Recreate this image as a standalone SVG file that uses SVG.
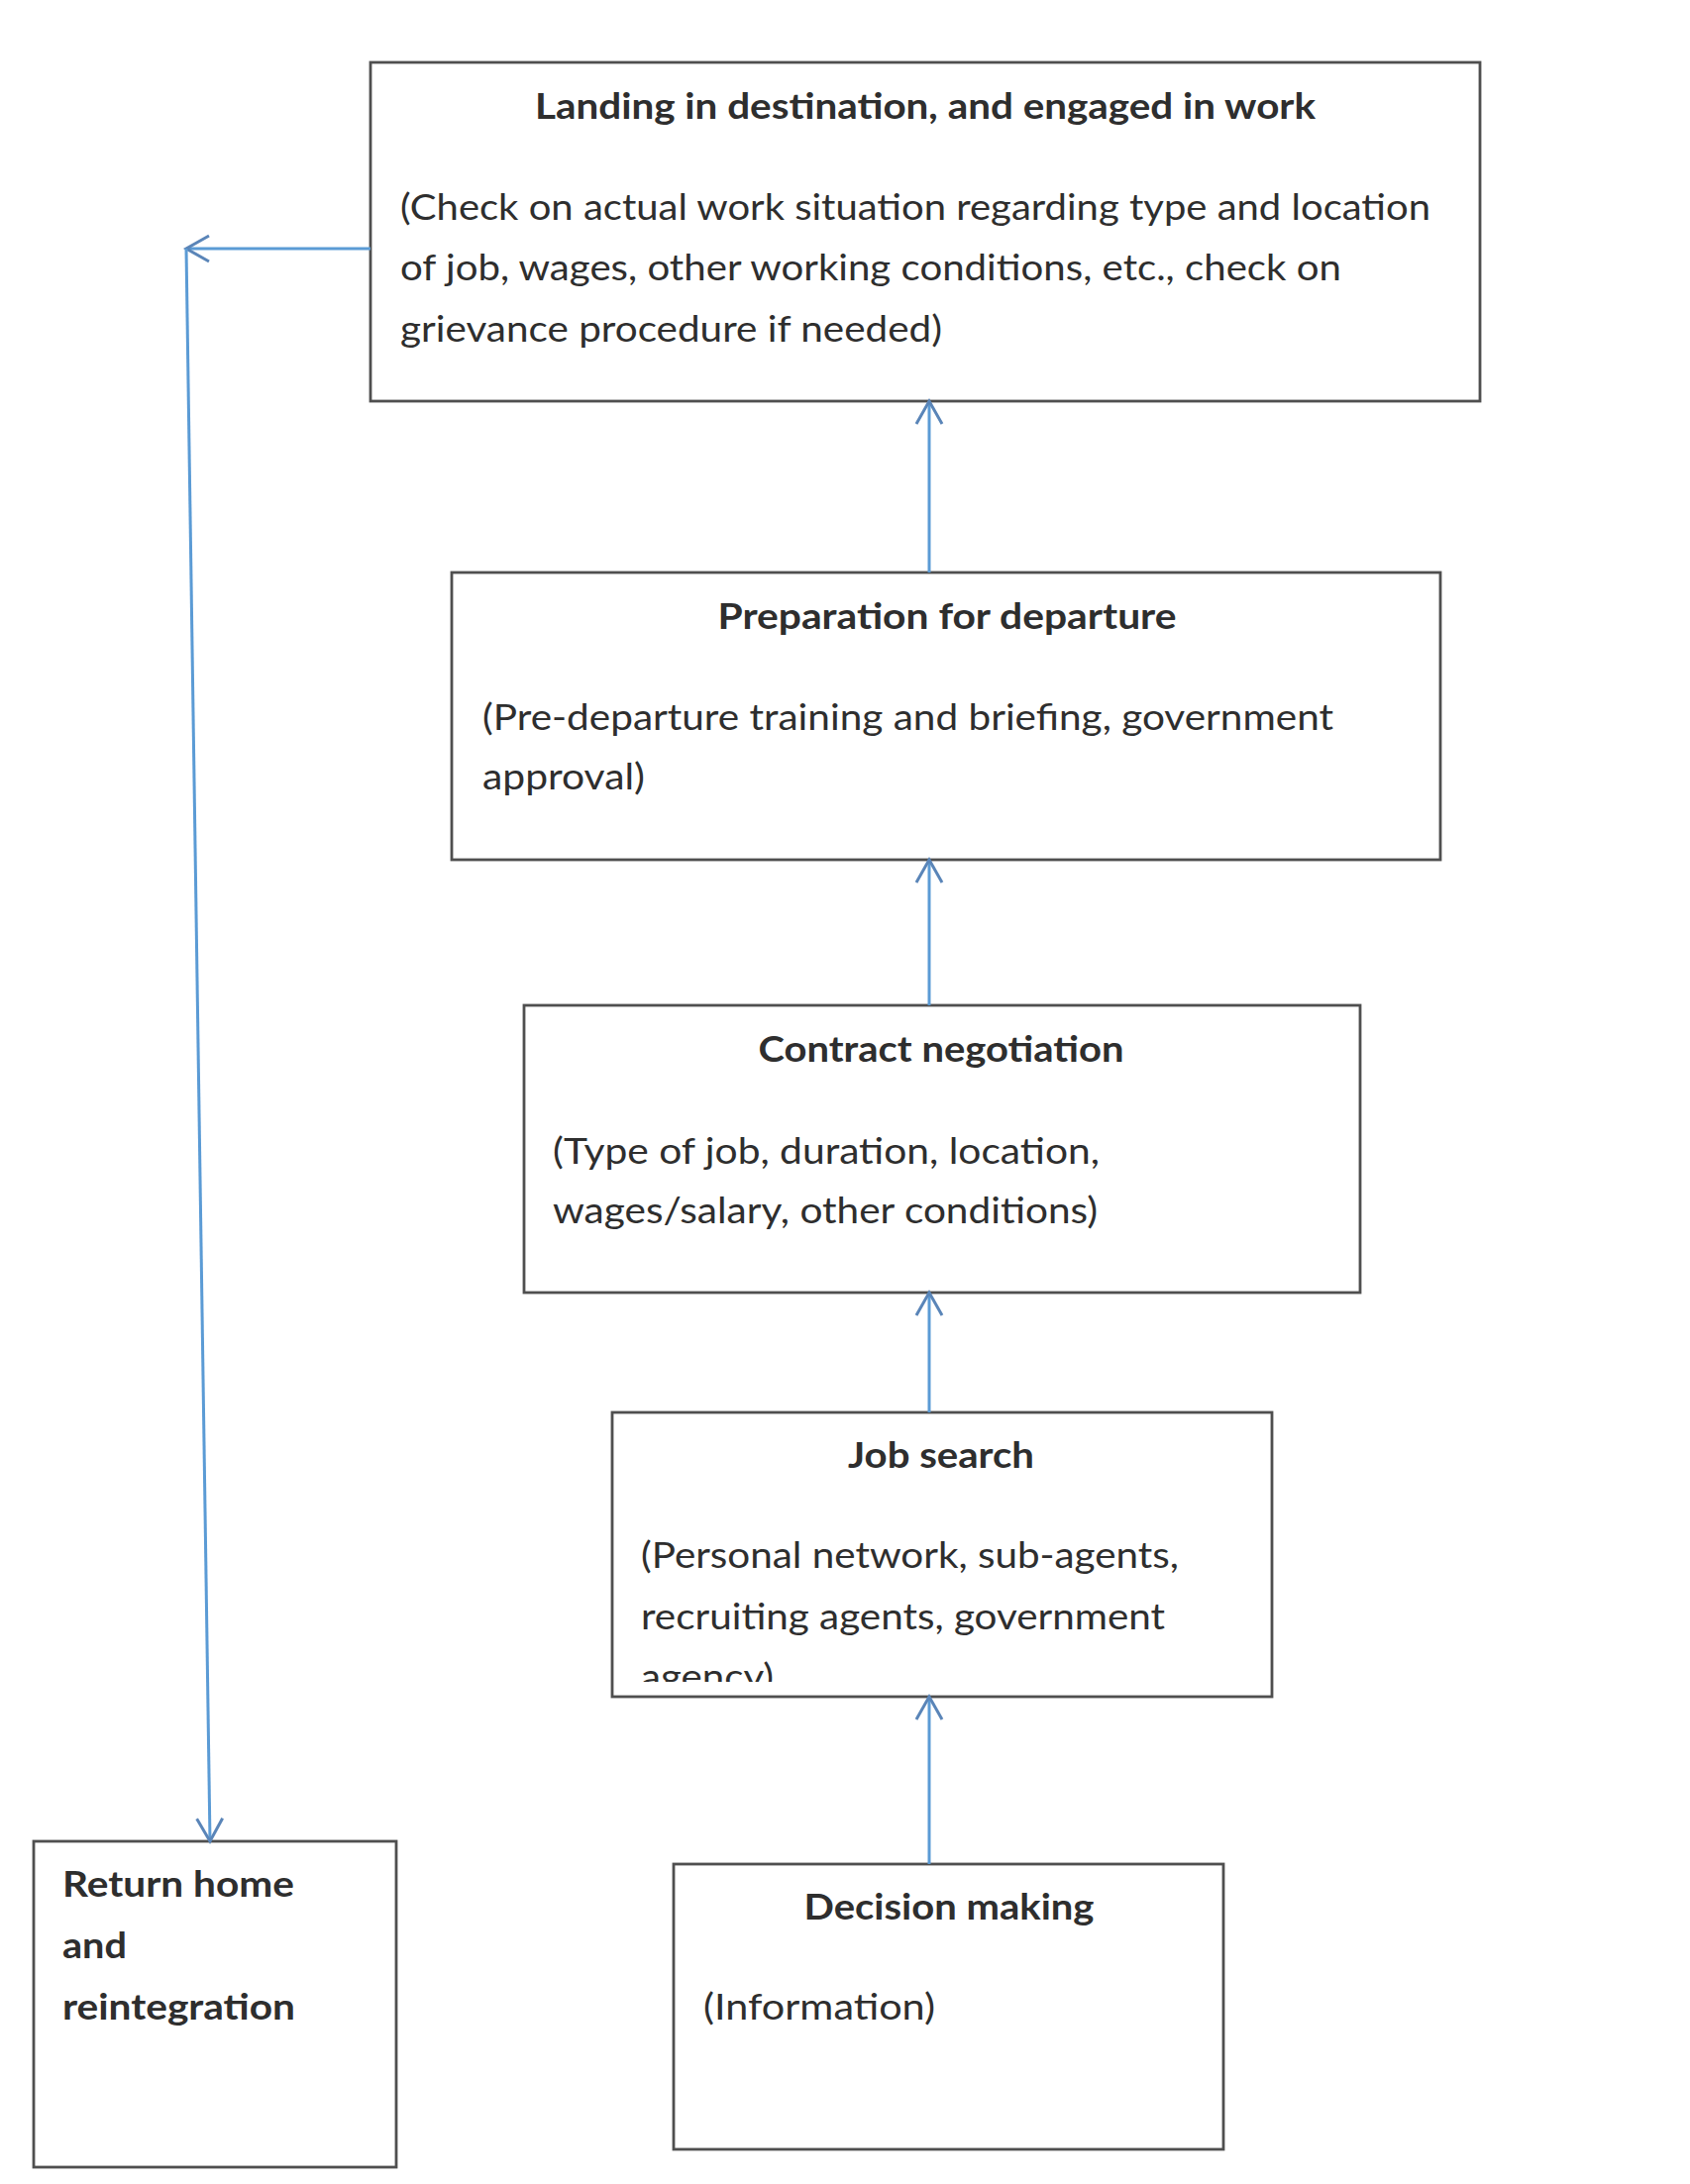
<svg xmlns="http://www.w3.org/2000/svg" width="1706" height="2205" viewBox="0 0 1706 2205">
<style>
.box{fill:#ffffff;stroke:#4f4f4f;stroke-width:2.8}
.t{font-family:Lato,"Liberation Sans",sans-serif;font-size:37px;fill:#2e2e2e}
.b{font-weight:bold}
.m{text-anchor:middle}
.c{fill:none;stroke:#5b9bd5;stroke-width:3}
</style>
<defs>
<marker id="ah" markerWidth="32" markerHeight="32" refX="27" refY="16" orient="auto" markerUnits="userSpaceOnUse">
<path d="M4,3 L27,16 L4,29" fill="none" stroke="#5a85b8" stroke-width="3"/>
</marker>
<clipPath id="jobclip"><rect x="618" y="1426" width="666" height="272"/></clipPath>
</defs>
<rect width="1706" height="2205" fill="#ffffff"/>

<g id="landing">
<rect class="box" x="374" y="63" width="1120" height="342"/>
<text class="t b m" x="934" y="120" textLength="788" lengthAdjust="spacingAndGlyphs">Landing in destination, and engaged in work</text>
<text class="t" x="404" y="222" textLength="1040" lengthAdjust="spacingAndGlyphs">(Check on actual work situation regarding type and location</text>
<text class="t" x="404" y="283" textLength="950" lengthAdjust="spacingAndGlyphs">of job, wages, other working conditions, etc., check on</text>
<text class="t" x="404" y="345" textLength="547" lengthAdjust="spacingAndGlyphs">grievance procedure if needed)</text>
</g>

<g id="preparation">
<rect class="box" x="456" y="578" width="998" height="290"/>
<text class="t b m" x="956" y="635" textLength="463" lengthAdjust="spacingAndGlyphs">Preparation for departure</text>
<text class="t" x="487" y="737" textLength="859" lengthAdjust="spacingAndGlyphs">(Pre-departure training and briefing, government</text>
<text class="t" x="487" y="797" textLength="164" lengthAdjust="spacingAndGlyphs">approval)</text>
</g>

<g id="contract">
<rect class="box" x="529" y="1015" width="844" height="290"/>
<text class="t b m" x="950" y="1072" textLength="369" lengthAdjust="spacingAndGlyphs">Contract negotiation</text>
<text class="t" x="558" y="1175" textLength="552" lengthAdjust="spacingAndGlyphs">(Type of job, duration, location,</text>
<text class="t" x="558" y="1235" textLength="550" lengthAdjust="spacingAndGlyphs">wages/salary, other conditions)</text>
</g>

<g id="jobsearch">
<rect class="box" x="618" y="1426" width="666" height="287"/>
<text class="t b m" x="950" y="1482" textLength="188" lengthAdjust="spacingAndGlyphs">Job search</text>
<text class="t" x="647" y="1583" textLength="543" lengthAdjust="spacingAndGlyphs">(Personal network, sub-agents,</text>
<text class="t" x="647" y="1645" textLength="529" lengthAdjust="spacingAndGlyphs">recruiting agents, government</text>
<text class="t" x="647" y="1706" textLength="134" lengthAdjust="spacingAndGlyphs" clip-path="url(#jobclip)">agency)</text>
</g>

<g id="return">
<rect class="box" x="34" y="1859" width="366" height="329"/>
<text class="t b" x="63" y="1915" textLength="234" lengthAdjust="spacingAndGlyphs">Return home</text>
<text class="t b" x="63" y="1977" textLength="65" lengthAdjust="spacingAndGlyphs">and</text>
<text class="t b" x="63" y="2039" textLength="235" lengthAdjust="spacingAndGlyphs">reintegration</text>
</g>

<g id="decision">
<rect class="box" x="680" y="1882" width="555" height="288"/>
<text class="t b m" x="958" y="1938" textLength="293" lengthAdjust="spacingAndGlyphs">Decision making</text>
<text class="t" x="710" y="2039" textLength="234" lengthAdjust="spacingAndGlyphs">(Information)</text>
</g>

<g id="connectors">
<line class="c" x1="938" y1="578" x2="938" y2="405" marker-end="url(#ah)"/>
<line class="c" x1="938" y1="1015" x2="938" y2="868" marker-end="url(#ah)"/>
<line class="c" x1="938" y1="1426" x2="938" y2="1305" marker-end="url(#ah)"/>
<line class="c" x1="938" y1="1882" x2="938" y2="1713" marker-end="url(#ah)"/>
<line class="c" x1="374" y1="251" x2="188" y2="251" marker-end="url(#ah)"/>
<line class="c" x1="188" y1="251" x2="212" y2="1859" marker-end="url(#ah)"/>
</g>
</svg>
